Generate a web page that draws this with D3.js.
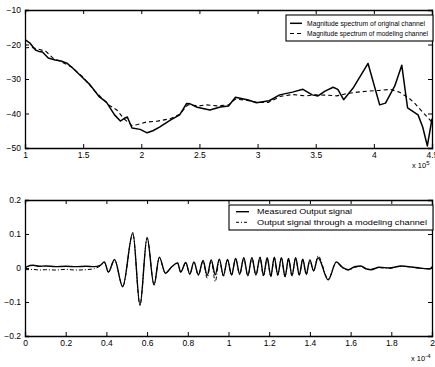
<!DOCTYPE html>
<html><head><meta charset="utf-8">
<script src="https://cdn.jsdelivr.net/npm/d3@7"></script>
<style>
html,body{margin:0;padding:0;background:#fff;}
svg{display:block;font-family:"Liberation Sans",Arial,sans-serif;}
</style></head>
<body>
<svg id="chart" width="435" height="367"></svg>
<script>
// ---------- Top panel: magnitude spectra (x in units of 1e5) ----------
const origX = [1.00,1.04,1.09,1.12,1.15,1.20,1.26,1.31,1.36,1.41,1.49,1.56,1.64,1.70,1.77,1.82,1.86,1.88,1.92,1.99,2.05,2.10,2.16,2.25,2.33,2.39,2.42,2.48,2.59,2.68,2.75,2.81,2.92,2.99,3.10,3.19,3.30,3.39,3.47,3.52,3.58,3.65,3.69,3.74,3.82,3.95,4.05,4.10,4.18,4.24,4.29,4.38,4.42,4.46,4.50];
const origY = [-18.6,-19.5,-21.6,-22.0,-22.2,-23.9,-24.5,-24.8,-25.4,-26.8,-29.4,-31.7,-35.2,-36.7,-40.4,-42.2,-41.3,-41.0,-44.2,-44.6,-45.6,-45.0,-43.9,-41.9,-40.4,-37.1,-37.2,-38.2,-39.0,-38.1,-37.8,-35.3,-36.1,-36.9,-36.3,-34.6,-33.8,-33.0,-34.6,-34.9,-33.5,-32.4,-33.0,-36.0,-32.7,-25.5,-37.5,-37.0,-32.0,-26.0,-38.4,-40.4,-43.9,-49.4,-41.5];

const modX = [1.00,1.05,1.10,1.18,1.25,1.30,1.40,1.50,1.60,1.72,1.79,1.85,1.92,1.97,2.04,2.14,2.25,2.33,2.40,2.50,2.56,2.65,2.75,2.81,2.91,3.00,3.09,3.20,3.30,3.41,3.50,3.60,3.68,3.77,3.86,3.95,4.05,4.14,4.22,4.30,4.35,4.42,4.50];
const modY = [-21.0,-20.8,-21.2,-22.0,-24.2,-24.8,-26.5,-29.5,-33.5,-37.5,-39.0,-41.5,-43.5,-43.2,-42.5,-42.2,-41.5,-40.2,-37.5,-37.8,-37.5,-37.8,-37.5,-35.8,-36.2,-36.8,-36.8,-35.0,-34.5,-34.9,-34.6,-34.7,-34.9,-34.2,-33.8,-33.5,-33.3,-33.0,-33.8,-35.5,-37.0,-39.6,-42.5];

const topXTicks = [1,1.5,2,2.5,3,3.5,4,4.5];
const topYTicks = [-10,-20,-30,-40,-50];
const topLegend = ["Magnitude spectrum of original channel","Magnitude spectrum of modeling channel"];

// ---------- Bottom panel: output signals (x in units of 1e-4) ----------
const sigX = [0.000,0.010,0.040,0.070,0.100,0.150,0.200,0.250,0.300,0.340,0.370,0.390,0.410,0.440,0.480,0.530,0.565,0.600,0.634,0.660,0.690,0.720,0.750,0.765,0.790,0.810,0.830,0.852,0.875,0.895,0.915,0.935,0.955,0.975,0.995,1.015,1.035,1.055,1.075,1.095,1.115,1.135,1.155,1.172,1.190,1.208,1.225,1.242,1.260,1.278,1.295,1.312,1.330,1.348,1.365,1.382,1.400,1.418,1.440,1.490,1.530,1.560,1.590,1.620,1.650,1.680,1.700,1.740,1.790,1.850,1.900,1.940,1.990,2.000];
const measuredY = [0.000,0.004,0.008,0.005,0.006,0.004,0.005,0.004,0.005,0.004,0.008,0.018,-0.012,0.025,-0.055,0.104,-0.110,0.090,-0.050,0.032,-0.015,0.003,0.015,-0.012,0.016,-0.018,0.018,-0.020,0.022,-0.022,0.024,-0.020,0.026,-0.022,0.025,-0.020,0.028,-0.018,0.030,-0.022,0.030,-0.020,0.032,-0.022,0.030,-0.024,0.032,-0.020,0.030,-0.025,0.028,-0.022,0.030,-0.020,0.026,-0.018,0.024,-0.008,0.030,-0.035,0.018,0.002,-0.005,0.004,0.006,-0.003,-0.005,0.002,0.000,0.006,0.003,0.000,-0.003,0.004];
const modelSigY = [-0.004,-0.005,-0.004,-0.006,-0.005,-0.006,-0.004,-0.006,-0.005,-0.002,0.006,0.016,-0.012,0.024,-0.054,0.100,-0.108,0.088,-0.048,0.030,-0.016,0.002,0.014,-0.012,0.015,-0.018,0.017,-0.022,0.020,-0.030,0.022,-0.040,0.025,-0.024,0.024,-0.022,0.027,-0.020,0.028,-0.024,0.029,-0.022,0.030,-0.024,0.029,-0.026,0.030,-0.022,0.029,-0.027,0.027,-0.024,0.029,-0.022,0.025,-0.020,0.022,-0.010,0.036,-0.032,0.016,0.000,-0.006,0.002,0.004,-0.004,-0.004,0.001,-0.001,0.005,0.002,-0.001,-0.002,0.003];

const botXTicks = [0,0.2,0.4,0.6,0.8,1,1.2,1.4,1.6,1.8,2];
const botYTicks = [0.2,0.1,0,-0.1,-0.2];
const botLegend = ["Measured Output signal","Output signal through a modeling channel"];

// ---------- drawing ----------
const svg = d3.select("#chart");
const FS = 8.5;

function panel(cfg){
  const g = svg.append("g");
  const x = d3.scaleLinear().domain(cfg.xDomain).range([cfg.left, cfg.right]);
  const y = d3.scaleLinear().domain(cfg.yDomain).range([cfg.bottom, cfg.top]);
  const fmt = d3.format("");
  const tl = 4;
  const ax = [
    {a:d3.axisBottom(x).tickValues(cfg.xTicks).tickSize(-tl).tickPadding(4).tickFormat(fmt), t:`translate(0,${cfg.bottom})`},
    {a:d3.axisTop(x).tickValues(cfg.xTicks).tickSize(-tl).tickFormat(""), t:`translate(0,${cfg.top})`},
    {a:d3.axisLeft(y).tickValues(cfg.yTicks).tickSize(-tl).tickPadding(4).tickFormat(fmt), t:`translate(${cfg.left},0)`},
    {a:d3.axisRight(y).tickValues(cfg.yTicks).tickSize(-tl).tickFormat(""), t:`translate(${cfg.right},0)`}
  ];
  ax.forEach(o=>{
    const s = g.append("g").attr("transform", o.t).call(o.a);
    s.select(".domain").attr("stroke","#000").attr("stroke-width",1.3);
    s.selectAll(".tick line").attr("stroke","#000").attr("stroke-width",1);
    s.selectAll("text").attr("fill","#000").style("font-size",FS+"px").style("font-family","'Liberation Sans',Arial,sans-serif");
  });
  const cid = "clip"+cfg.id;
  svg.append("clipPath").attr("id",cid).append("rect")
    .attr("x",cfg.left).attr("y",cfg.top).attr("width",cfg.right-cfg.left).attr("height",cfg.bottom-cfg.top);
  const line = d3.line().x(d=>x(d[0])).y(d=>y(d[1])).curve(cfg.curve);
  cfg.series.forEach(s=>{
    g.append("path").datum(s.x.map((v,i)=>[v,s.y[i]]))
      .attr("clip-path",`url(#${cid})`)
      .attr("fill","none").attr("stroke","#000")
      .attr("stroke-width",s.w).attr("stroke-dasharray",s.dash||null)
      .attr("stroke-linejoin","round")
      .attr("d",line);
  });
  const e = g.append("text").attr("x",cfg.expX).attr("y",cfg.expY).attr("fill","#000").style("font-size","7.5px");
  e.append("tspan").text("x 10");
  e.append("tspan").attr("dy",-3.5).style("font-size","6px").text(cfg.exp);
  const L = cfg.legend;
  g.append("rect").attr("x",L.x0).attr("y",L.y0).attr("width",L.x1-L.x0).attr("height",L.y1-L.y0)
    .attr("fill","#fff").attr("stroke","#000").attr("stroke-width",1.1);
  L.items.forEach((txt,i)=>{
    const yy = L.rows[i];
    g.append("line").attr("x1",L.lx0).attr("x2",L.lx1).attr("y1",yy).attr("y2",yy)
      .attr("stroke","#000").attr("stroke-width",cfg.series[i].w).attr("stroke-dasharray",L.dash[i]);
    g.append("text").attr("x",L.tx).attr("y",yy+2.7).attr("fill","#000")
      .attr("textLength",L.widths[i]).attr("lengthAdjust","spacingAndGlyphs")
      .style("font-size",L.fs+"px").text(txt);
  });
}

panel({
  id:"top", left:25, right:432, top:10, bottom:148,
  xDomain:[1,4.5], yDomain:[-50,-10], xTicks:topXTicks, yTicks:topYTicks,
  curve:d3.curveLinear,
  series:[{x:origX,y:origY,w:1.5},{x:modX,y:modY,w:1.1,dash:"4,3"}],
  exp:"5", expX:412, expY:168,
  legend:{x0:286,x1:433,y0:15,y1:41,lx0:290,lx1:302,tx:307,rows:[23.3,33.5],fs:7.3,
    widths:[118,121],dash:[null,"4,3"],items:topLegend}
});

panel({
  id:"bot", left:25, right:432, top:200, bottom:336,
  xDomain:[0,2], yDomain:[-0.2,0.2], xTicks:botXTicks, yTicks:botYTicks,
  curve:d3.curveMonotoneX,
  series:[{x:sigX,y:measuredY,w:1.4},{x:sigX,y:modelSigY,w:1,dash:"4,2,1,2"}],
  exp:"-4", expX:411, expY:361,
  legend:{x0:229,x1:433,y0:205,y1:230,lx0:236,lx1:249,tx:257,rows:[211.7,222.3],fs:7.8,
    widths:[95,170],dash:[null,"3,2,1,2"],items:botLegend}
});
</script>
</body></html>
